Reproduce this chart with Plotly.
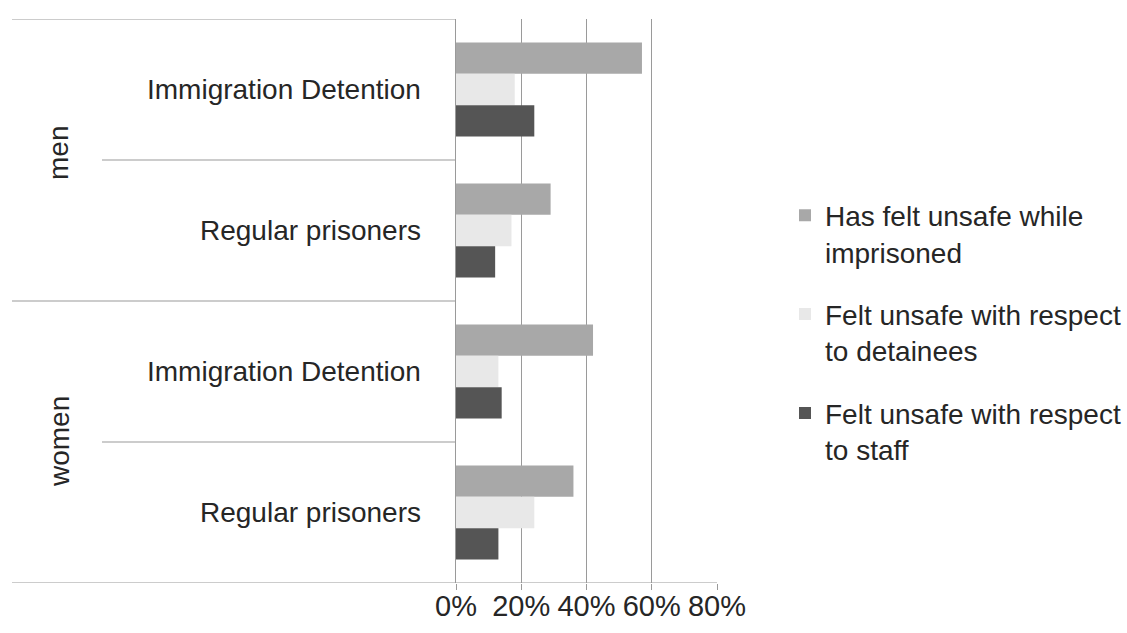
import plotly.graph_objects as go

groups = ["men", "men", "women", "women"]
subcats = ["Immigration Detention", "Regular prisoners", "Immigration Detention", "Regular prisoners"]
cat_keys = ["men|Immigration Detention", "men|Regular prisoners",
            "women|Immigration Detention", "women|Regular prisoners"]

series_names = ["Has felt unsafe while<br>imprisoned",
                "Felt unsafe with respect<br>to detainees",
                "Felt unsafe with respect<br>to staff"]
felt_unsafe = [57, 29, 42, 36]
wrt_detainees = [18, 17, 13, 24]
wrt_staff = [24, 12, 14, 13]
series_values = [felt_unsafe, wrt_detainees, wrt_staff]
series_colors = ["#a8a8a8", "#e8e8e8", "#555555"]

x_ticks = [0, 20, 40, 60, 80]
x_ticklabels = ["0%", "20%", "40%", "60%", "80%"]

FONT = "Liberation Sans, Arial, Helvetica, sans-serif"
TXT = "#262626"
LINE = "#9a9a9a"

fig = go.Figure()
for i, (name, vals, col) in enumerate(zip(series_names, series_values, series_colors)):
    fig.add_trace(go.Bar(
        y=cat_keys, x=vals, name=name, orientation="h",
        marker=dict(color=col, line=dict(width=0)),
        legendgroup=f"g{i}",
    ))

W, H = 1127, 633
L, R, T, B = 456, 1127 - 717, 19, 633 - 583
pw = W - L - R

def px2paper(px):
    return (px - L) / pw

shapes = []
for yv in [-0.5, 1.5]:
    shapes.append(dict(type="line", xref="paper", yref="y", x0=px2paper(12), x1=0,
                       y0=yv, y1=yv, line=dict(color=LINE, width=1.2)))
for yv in [0.5, 2.5]:
    shapes.append(dict(type="line", xref="paper", yref="y", x0=px2paper(102), x1=0,
                       y0=yv, y1=yv, line=dict(color=LINE, width=1.2)))
shapes.append(dict(type="line", xref="paper", yref="y", x0=px2paper(12), x1=1,
                   y0=3.5, y1=3.5, line=dict(color=LINE, width=1.2)))

annotations = []
for k, sub in zip(cat_keys, subcats):
    annotations.append(dict(xref="paper", yref="y", x=px2paper(423), y=k,
                            text=sub, showarrow=False, xanchor="right", yanchor="middle",
                            font=dict(family=FONT, size=28, color=TXT)))
for g, yv in [("men", 0.45), ("women", 2.5)]:
    annotations.append(dict(xref="paper", yref="y", x=px2paper(59), y=yv,
                            text=g, showarrow=False, textangle=-90,
                            xanchor="center", yanchor="middle",
                            font=dict(family=FONT, size=28, color=TXT)))

fig.update_layout(
    width=W, height=H,
    margin=dict(l=L, r=R, t=T, b=B, pad=0, autoexpand=False),
    paper_bgcolor="white", plot_bgcolor="white",
    barmode="group", bargap=0.333, bargroupgap=0,
    font=dict(family=FONT, size=28, color=TXT),
    showlegend=True,
    legend=dict(x=px2paper(785), y=0.444, xanchor="left", yanchor="middle",
                traceorder="grouped", tracegroupgap=23, valign="top",
                font=dict(family=FONT, size=28, color=TXT),
                bgcolor="rgba(0,0,0,0)"),
    shapes=shapes, annotations=annotations,
)
fig.update_xaxes(range=[0, 80], tickvals=x_ticks, ticktext=x_ticklabels,
                 showgrid=True, gridcolor=LINE, gridwidth=1.2,
                 zeroline=False, showline=False, automargin=False,
                 ticks="outside", ticklen=6, tickcolor=LINE, tickwidth=1.2,
                 ticklabelstandoff=-9,
                 tickfont=dict(family=FONT, size=29, color=TXT))
fig.update_yaxes(type="category", categoryorder="array", categoryarray=cat_keys,
                 range=[3.5, -0.5], showticklabels=False, showgrid=False, automargin=False,
                 showline=True, linecolor=LINE, linewidth=1.2, zeroline=False, ticks="")

fig.write_html("out.html", config={"displayModeBar": False},
               post_script="document.body.style.margin='0';document.body.style.overflow='hidden';")
